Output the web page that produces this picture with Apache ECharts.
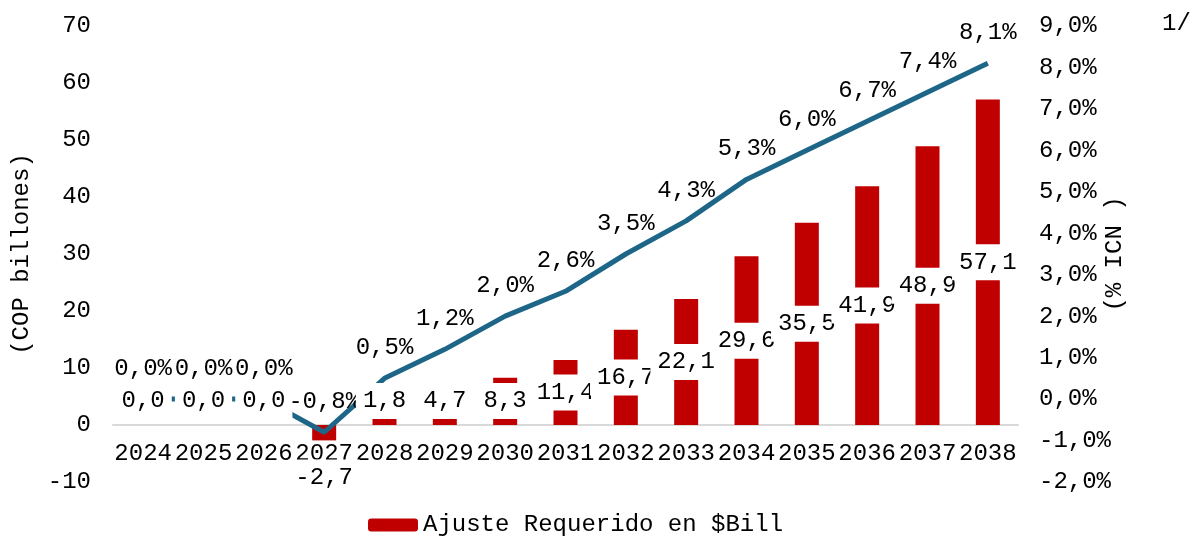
<!DOCTYPE html>
<html>
<head>
<meta charset="utf-8">
<script src="https://cdn.jsdelivr.net/npm/echarts@6/dist/echarts.min.js"></script>
<style>
  html, body { margin: 0; padding: 0; background: #fff; }
  #chart { width: 1199px; height: 536px; }
</style>
</head>
<body>
<div id="chart"></div>
<script>
const years = ["2024", "2025", "2026", "2027", "2028", "2029", "2030", "2031", "2032", "2033", "2034", "2035", "2036", "2037", "2038"];
const ajusteBill = [0, 0, 0, -2.7, 1.8, 4.7, 8.3, 11.4, 16.7, 22.1, 29.6, 35.5, 41.9, 48.9, 57.1];
const ajustePct = [0, 0, 0, -0.8, 0.5, 1.2, 2.0, 2.6, 3.5, 4.3, 5.3, 6.0, 6.7, 7.4, 8.1];
const barName = "Ajuste Requerido en $Bill";
const footnote = "1/";

(function () {
  const font = "Liberation Mono";
  const chart = echarts.init(document.getElementById("chart"));

  function comma(value, digits) {
    return value.toFixed(digits).replace(".", ",");
  }

  // small bars keep their label at a fixed height above the axis, negatives go below
  function barLabel(value) {
    const base = {
      backgroundColor: "#fff",
      padding: [6, 7],
      color: "#000",
      fontFamily: font,
      fontSize: 24,
      lineHeight: 24
    };
    if (value < 0) {
      return Object.assign(base, { position: "bottom", distance: 19 });
    }
    if (value < 8.4) {
      return Object.assign(base, { position: "insideBottom", distance: 6 });
    }
    return Object.assign(base, { position: "inside" });
  }

  chart.setOption({
    animation: false,
    textStyle: { fontFamily: font },
    grid: { left: 113, right: 181, top: 26, bottom: 54 },
    legend: {
      data: [barName],
      left: 363,
      top: 508,
      itemWidth: 50,
      itemHeight: 13,
      itemGap: 6,
      textStyle: { color: "#000", fontFamily: font, fontSize: 24 }
    },
    graphic: [
      {
        type: "text",
        left: 1162,
        top: 12,
        style: { text: footnote, fill: "#000", font: "24px 'Liberation Mono'" }
      }
    ],
    xAxis: {
      type: "category",
      data: years,
      offset: -57,
      axisTick: { show: false },
      axisLine: { onZero: false, lineStyle: { color: "#d9d9d9", width: 2 } },
      axisLabel: { color: "#000", fontSize: 24, fontFamily: font, margin: 17, interval: 0 }
    },
    yAxis: [
      {
        type: "value",
        min: -10,
        max: 70,
        interval: 10,
        name: "(COP billones)",
        nameLocation: "middle",
        nameRotate: 90,
        nameGap: 79,
        nameMoveOverlap: false,
        nameTextStyle: { color: "#000", fontSize: 24, fontFamily: font },
        splitLine: { show: false },
        axisLine: { show: false },
        axisTick: { show: false },
        axisLabel: { color: "#000", fontSize: 24, fontFamily: font, margin: 22 }
      },
      {
        type: "value",
        min: -2,
        max: 9,
        interval: 1,
        name: "(% ICN )",
        nameLocation: "middle",
        nameRotate: 90,
        nameGap: 85,
        nameMoveOverlap: false,
        nameTextStyle: { color: "#000", fontSize: 24, fontFamily: font },
        splitLine: { show: false },
        axisLine: { show: false },
        axisTick: { show: false },
        axisLabel: {
          color: "#000",
          fontSize: 24,
          fontFamily: font,
          margin: 21,
          formatter: function (value) { return comma(value, 1) + "%"; }
        }
      }
    ],
    series: [
      {
        name: barName,
        type: "bar",
        yAxisIndex: 0,
        barWidth: 24,
        itemStyle: { color: "#c00000" },
        data: ajusteBill,
        z: 1
      },
      {
        name: "ICN",
        type: "line",
        yAxisIndex: 1,
        data: ajustePct,
        symbol: "circle",
        symbolSize: 1,
        showAllSymbol: true,
        itemStyle: { color: "rgba(0,0,0,0)" },
        lineStyle: { color: "#1d6688", width: 5 },
        label: {
          show: true,
          position: "top",
          distance: 18,
          color: "#000",
          fontSize: 24,
          fontFamily: font,
          formatter: function (p) { return comma(p.value, 1) + "%"; }
        },
        z: 2
      },
      {
        // value labels of the bars, drawn above the line
        name: "labels",
        type: "bar",
        yAxisIndex: 0,
        barWidth: 24,
        barGap: "-100%",
        itemStyle: { color: "rgba(0,0,0,0)" },
        data: ajusteBill.map(function (value) {
          return { value: value, label: barLabel(value) };
        }),
        label: {
          show: true,
          formatter: function (p) { return comma(p.value, 1); }
        },
        z: 3
      }
    ]
  });
})();
</script>
</body>
</html>
